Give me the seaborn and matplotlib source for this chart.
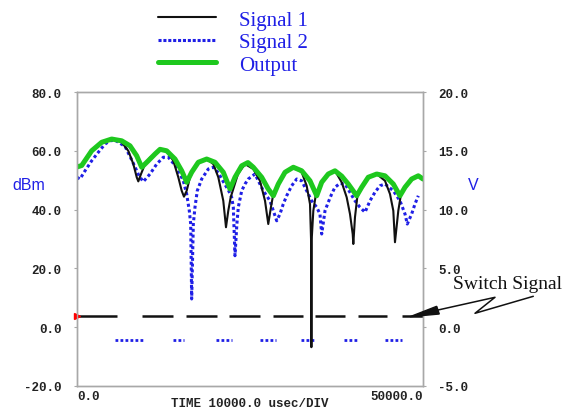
import matplotlib
matplotlib.use('Agg')
import pandas as pd
import seaborn as sns
import matplotlib.pyplot as plt
from matplotlib.lines import Line2D
from matplotlib.patches import Polygon

# time in usec, levels in dBm
t_out = [0, 680, 2120, 3570, 5010, 6460, 7660, 8630, 9350, 10300, 11270, 12000, 12960,
         14160, 15130, 15850, 16570, 17530, 18740, 19940, 21140, 22110, 22830, 23800,
         24700, 25480, 26690, 27640, 28370, 29090, 30060, 31260, 32470, 33670, 34640,
         35360, 36310, 37280, 38250, 39200, 40420, 41140, 42090, 43310, 44510, 45710,
         46670, 47400, 48360, 49320, 50000]
db_out = [54.5, 55.0, 60.0, 62.9, 64.0, 63.4, 61.7, 58.3, 54.4, 56.6, 58.9, 60.5, 60.0,
          57.2, 53.2, 49.3, 52.7, 56.1, 57.2, 56.1, 52.7, 47.0, 51.0, 54.9,
          56.0, 54.4, 51.0, 47.0, 44.7, 48.7, 52.7, 54.4, 53.2, 49.8, 44.7,
          49.3, 52.1, 53.2, 51.4, 48.7, 44.7, 47.6, 51.0, 52.1, 51.5, 48.7,
          44.7, 47.6, 50.4, 51.5, 50.4]

t_s1 = [0, 680, 2120, 3570, 5010, 6460, 7410, 8140, 8630, 8860, 9250, 9830, 10550,
        11270, 12000, 12960, 13920, 14640, 15130, 15460, 15850, 16330, 17050, 17530,
        18740, 19700, 20420, 21140, 21530, 21860, 22210, 23260, 24280, 25480, 26440,
        27170, 27640, 28030, 28370, 29090, 30060, 31260, 32470, 33190, 33670, 33820,
        33870, 33920, 34150, 34490, 35360, 36310, 37280, 38250, 38970, 39450, 39840,
        39930, 40170, 40500, 41140, 42090, 43310, 44510, 45230, 45710, 45950, 46430,
        46780, 47400, 48360, 49320, 50000]
db_s1 = [54.5, 55.0, 60.0, 62.9, 64.0, 62.9, 60.0, 55.5, 51.0, 49.6, 52.1, 55.5, 57.7,
         58.9, 60.5, 60.0, 56.6, 51.0, 46.4, 44.4, 46.4, 51.0, 54.4, 56.1,
         57.2, 55.5, 51.0, 43.0, 34.0, 39.6, 44.2, 52.1, 55.5, 53.8, 49.8,
         43.0, 35.1, 40.9, 45.3, 48.7, 52.7, 54.4, 52.7, 48.1, 41.9, 30.0,
         -6.8, 30.0, 39.6, 44.7, 49.3, 52.1, 53.2, 49.3, 44.2, 38.5, 31.7,
         28.3, 37.4, 44.2, 47.6, 51.0, 52.1, 49.8, 45.3, 39.6, 28.9, 39.6,
         44.7, 47.6, 50.4, 51.5, 50.4]

t_s2 = [0, 430, 1160, 2120, 3080, 4050, 4770, 5500, 6940, 8090, 8960, 9580, 10550,
        11520, 12470, 13190, 14410, 15360, 15850, 16230, 16430, 16570, 16810, 17050,
        17380, 18020, 18970, 19700, 20420, 21140, 21900, 22350, 22590, 22830, 23100,
        23310, 23800, 24280, 24750, 25720, 26920, 27890, 28370, 28860, 29330, 29810,
        30300, 31020, 31750, 32470, 33190, 33910, 34640, 35110, 35360, 35840, 36310,
        36800, 37280, 38000, 38730, 40170, 40890, 41620, 42340, 43060, 43780, 44510,
        45710, 46670, 47400, 47730, 48360, 48840, 49320]
db_s2 = [51.0, 50.4, 53.2, 56.6, 59.5, 62.3, 63.4, 63.6, 61.5, 56.0, 51.5, 49.5, 52.1,
         55.5, 57.8, 57.8, 54.4, 49.8, 45.3, 39.6, 35.1, 9.6, 35.1, 40.8,
         46.4, 50.4, 53.8, 54.4, 52.5, 49.5, 46.5, 44.2, 40.8, 24.3, 35.0,
         40.8, 46.4, 48.7, 50.4, 52.1, 46.4, 43.0, 39.6, 36.2, 38.5, 41.9,
         44.7, 48.1, 50.4, 49.8, 46.4, 43.0, 40.8, 38.5, 31.7, 39.6, 42.5,
         45.3, 47.6, 48.9, 48.7, 43.0, 40.8, 39.1, 43.0, 45.9, 48.1, 48.7,
         46.4, 43.0, 38.5, 35.1, 38.5, 41.9, 44.7]

# switch signal on/off windows (usec) and their levels (dBm)
sw1_start = [0, 9350, 15750, 22010, 28370, 34390, 40650, 46920]
sw1_end = [5740, 13920, 20190, 26440, 32700, 38730, 44750, 50000]
sw2_start = [5490, 13920, 20090, 26440, 32330, 38580, 44510]
sw2_end = [9580, 15460, 22350, 28760, 34540, 40790, 47010]
sw1_level = 3.8
sw2_level = -4.4

left_ticks = [80, 60, 40, 20, 0, -20]
right_ticks = [20, 15, 10, 5, 0, -5]
x_ticks = [0, 50000]
labels = ['Signal 1', 'Signal 2', 'Output']

BLUE = '#1f1fe6'
GREEN = '#1ec81e'
BLACK = '#111111'
SPINE = '#a8a8a8'
W, H = 563, 414

sns.set_style('white')
plt.rcParams['font.family'] = ['DejaVu Sans']
tick_font = dict(family='Liberation Mono', weight='bold', size=9)

fig = plt.figure(figsize=(W / 100, H / 100), dpi=100)
ax = fig.add_axes([77 / W, 27 / H, 346 / W, 294 / H])

s1 = pd.DataFrame({'t': t_s1, 'dbm': db_s1})
s2 = pd.DataFrame({'t': t_s2, 'dbm': db_s2})
out = pd.DataFrame({'t': t_out, 'dbm': db_out})

# switch signal
ax.hlines([sw1_level] * len(sw1_start), sw1_start, sw1_end, color=BLACK, lw=1.8, zorder=1)
ax.hlines([sw2_level] * len(sw2_start), sw2_start, sw2_end, color=BLUE, lw=2,
          linestyles=[(0, (1, 0.8))], zorder=1)
ax.plot([0], [sw1_level], marker='>', color='red', ms=4, clip_on=False, zorder=5)

sns.lineplot(data=s2, x='t', y='dbm', ax=ax, color=BLUE, lw=2.2,
             linestyle=(0, (1, 0.9)), sort=False, estimator=None, zorder=2)
sns.lineplot(data=s1, x='t', y='dbm', ax=ax, color=BLACK, lw=1.5,
             sort=False, estimator=None, zorder=3)
sns.lineplot(data=out, x='t', y='dbm', ax=ax, color=GREEN, lw=3.6,
             sort=False, estimator=None, zorder=4)

ax.set_xlim(0, 50000)
ax.set_ylim(-20, 80)
ax.set_xlabel('')
ax.set_ylabel('')
ax.set_yticks(left_ticks)
ax.set_yticklabels([f'{v:.1f}' for v in left_ticks], fontdict=tick_font, color='#222222')
ax.set_xticks(x_ticks)
ax.set_xticklabels(['0.0', '50000.0'], fontdict=tick_font, color='#222222')
xl = ax.get_xticklabels()
xl[0].set_ha('left')
xl[1].set_ha('right')
ax.tick_params(axis='y', length=2, color=SPINE, pad=9)
ax.tick_params(axis='x', length=2, color=SPINE, pad=1)

ax2 = ax.twinx()
ax2.set_ylim(-5, 20)
ax2.set_yticks(right_ticks)
ax2.set_yticklabels([f'{v:.1f}' for v in right_ticks], fontdict=tick_font, color='#222222')
ax2.tick_params(axis='y', length=2, color=SPINE, pad=9)
for a in (ax, ax2):
    for sp in a.spines.values():
        sp.set_color(SPINE)
        sp.set_linewidth(1)

fig.text(12 / W, 1 - 186 / H, 'dBm', color=BLUE, family='Liberation Sans', size=11.5,
         ha='left', va='center')
fig.text(473 / W, 1 - 186 / H, 'V', color=BLUE, family='Liberation Sans', size=11.5,
         ha='center', va='center')
fig.text(250 / W, 1 - 404 / H, 'TIME 10000.0 usec/DIV', family='Liberation Mono',
         weight='bold', size=9, color='#222222', ha='center', va='center')

handles = [Line2D([], [], color=BLACK, lw=1.5),
           Line2D([], [], color=BLUE, lw=2.2, linestyle=(0, (1, 0.6))),
           Line2D([], [], color=GREEN, lw=3.6)]
fig.legend(handles, labels, loc='upper left', bbox_to_anchor=(158 / W, 1 - 11 / H),
           frameon=False, handlelength=2.8, handletextpad=1.1, labelspacing=0.14,
           borderpad=0, borderaxespad=0, labelcolor=BLUE,
           prop=dict(family='Liberation Serif', size=15))

# "Switch Signal" callout with zigzag arrow
fig.text(453 / W, 1 - 285 / H, 'Switch Signal', family='Liberation Serif', size=14,
         color=BLACK, ha='left', va='center')
zig = [(438, 311), (495, 298.3), (475, 314.3), (533.3, 297.3)]
fig.add_artist(Line2D([p[0] / W for p in zig], [1 - p[1] / H for p in zig],
                      transform=fig.transFigure, color=BLACK, lw=1.1))
head = [(410, 317.7), (436.7, 307.3), (439.3, 315)]
fig.add_artist(Polygon([(p[0] / W, 1 - p[1] / H) for p in head],
                       closed=True, transform=fig.transFigure, color=BLACK))

fig.savefig('out.png', dpi=100)
